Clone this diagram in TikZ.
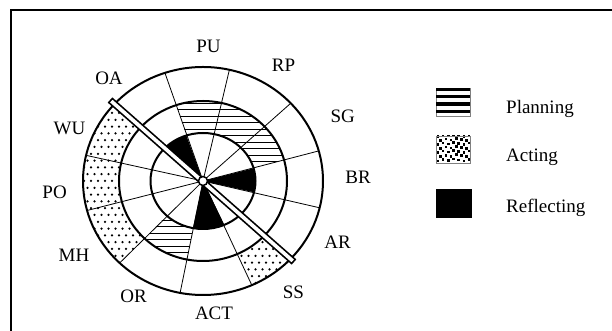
\documentclass[tikz,border=0pt]{standalone}
\usepackage{fontspec}
\setmainfont{Liberation Serif}
\usetikzlibrary{calc}
\newcommand\ringsec[6]{(#1:#3pt and #4pt) arc[start angle=#1,end angle=#2,x radius=#3pt,y radius=#4pt] -- (#2:#5pt and #6pt) arc[start angle=#2,end angle=#1,x radius=#5pt,y radius=#6pt] -- cycle}
\begin{document}
\begin{tikzpicture}[x=1pt,y=1pt,
  lbl/.style={font=\fontsize{19}{20}\selectfont, inner sep=0pt, anchor=center},
  leg/.style={font=\fontsize{19}{20}\selectfont, inner sep=0pt, anchor=base west},
  ring/.style={line width=2pt},
  spoke/.style={line width=0.8pt},
  hatch/.style={line width=0.9pt}]
\useasboundingbox (0,0) rectangle (612,331);
\fill[white] (0,0) rectangle (612,331);
\draw[line width=1.7pt] (11,0) -- (11,321) -- (612,321);

\begin{scope}[shift={(203,150)}]
  \coordinate (ctr) at (0,0);
  % Reflecting (black) wedges in inner circle
  \fill (ctr) -- (108.5:52.5pt and 48pt) arc[start angle=108.5,end angle=138.6,x radius=52.5pt,y radius=48pt] -- cycle;
  \fill (ctr) -- (-13.6:52.5pt and 48pt) arc[start angle=-13.6,end angle=15.3,x radius=52.5pt,y radius=48pt] -- cycle;
  \fill (ctr) -- (259:52.5pt and 48pt) arc[start angle=259,end angle=294,x radius=52.5pt,y radius=48pt] -- cycle;
  % Planning (horizontal hatch) in middle ring
  \begin{scope}
    \clip \ringsec{15.3}{108.5}{52.5}{48}{84}{80};
    \foreach \k in {0,...,14} \draw[hatch] (-100,{\k*6.5}) -- (100,{\k*6.5});
  \end{scope}
  \begin{scope}
    \clip \ringsec{226}{259}{52.5}{48}{84}{80};
    \foreach \k in {1,...,14} \draw[hatch] (-100,{-\k*6.5}) -- (100,{-\k*6.5});
  \end{scope}
  % Acting (dots) in outer ring
  \begin{scope}
    \clip \ringsec{138.6}{226}{84}{80}{120}{114} \ringsec{294}{318.6}{84}{80}{120}{114};
    \foreach \j in {-17,...,17} {
      \foreach \i in {-18,...,18} {
        \pgfmathsetmacro\xo{mod(abs(\j),2)*3.5}
        \fill ({\i*7+\xo},{\j*6.8}) circle (1.25pt);
      }
    }
  \end{scope}
  % rings
  \draw[ring] (ctr) ellipse[x radius=52.5pt, y radius=48pt];
  \draw[ring] (ctr) ellipse[x radius=84pt, y radius=80pt];
  \draw[ring] (ctr) ellipse[x radius=120pt, y radius=114pt];
  % spokes
  \foreach \a in {15.3,43,77.3,108.5,167,195,226,259,294,346.4}
    \draw[spoke] (ctr) -- (\a:120pt and 114pt);
  % bar
  \coordinate (barA) at (-93,81);
  \coordinate (barB) at (91,-81);
  \draw[line width=7pt] (barA) -- (barB);
  \draw[white, line width=3.6pt, shorten <=1.7pt, shorten >=1.7pt] (barA) -- (barB);
  \draw[fill=white, line width=1.5pt] (ctr) circle (4.5pt);
\end{scope}

% labels
\node[lbl] (pu) at (208.5,284.5) {PU};
\node[lbl] (rp) at (283.5,266) {RP};
\node[lbl] (sg) at (342.7,215) {SG};
\node[lbl] (br) at (358,154) {BR};
\node[lbl] (ar) at (337.6,89) {AR};
\node[lbl] (ss) at (293.4,38.2) {SS};
\node[lbl] (act) at (214,18) {ACT};
\node[lbl] (or) at (133.6,34.6) {OR};
\node[lbl] (mh) at (74,76) {MH};
\node[lbl] (po) at (54.6,139) {PO};
\node[lbl] (wu) at (69.5,203) {WU};
\node[lbl] (oa) at (109,253) {OA};

% legend
\draw[gray, line width=0.6pt] (436,215) rectangle (470,243);
\foreach \y in {89.5,96.5,104,111.5}
  \fill (436,{331-\y-1.6}) rectangle (470,{331-\y+1.6});
\node[leg] (plan) at (506,217) {Planning};

\fill[white] (436,168) rectangle (470,195);
\begin{scope}
  \clip (436,168) rectangle (470,195);
  \foreach \j in {0,...,6} {
    \foreach \i in {0,...,7} {
      \pgfmathsetmacro\xo{mod(\j,2)*2.7}
      \pgfmathsetmacro\yo{mod(\i*3,5)*0.5}
      \fill ({436.6+\i*5.2+\xo},{168.8+\j*4.1+\yo}) rectangle +(2.6,2.6);
    }
  }
\end{scope}
\draw[gray, line width=0.6pt] (436,168) rectangle (470,195);
\node[leg] (act2) at (506,169) {Acting};

\fill (436,112.7) rectangle (471.5,141.7);
\node[leg] (refl) at (506,118) {Reflecting};
\end{tikzpicture}
\end{document}
